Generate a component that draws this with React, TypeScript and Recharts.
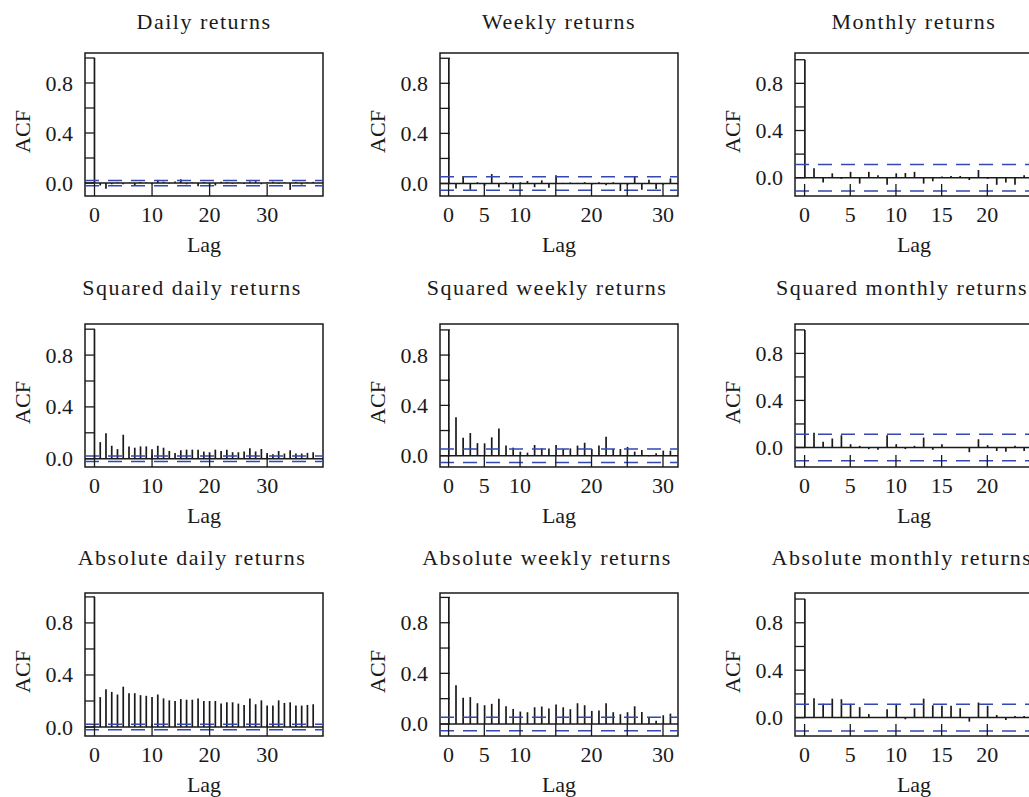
import React from 'react';
import { ComposedChart, Bar, XAxis, YAxis, ReferenceLine, ReferenceArea } from 'recharts';

const FONT = '"Liberation Serif", "DejaVu Serif", serif';
const INK = '#1a1a1a';
const BLUE = '#3547b0';

// ACF values, index = lag
const dailyAcf = [
  1, -0.02, -0.045, -0.01, 0.005, -0.01, 0.003, -0.02, 0.008, 0.004, -0.01, 0.025, 0.01, -0.005,
  0.012, 0.03, -0.01, 0.005, -0.025, 0.008, -0.012, -0.02, 0.01, 0.006, -0.005, 0.004, -0.008,
  0.012, 0.015, -0.01, 0.005, 0.01, -0.006, 0.004, -0.055, 0.008, -0.012, 0.006, 0.009,
];
const weeklyAcf = [
  1, -0.04, 0.06, -0.05, 0.01, -0.02, 0.075, -0.03, 0.01, -0.04, 0.01, 0.02, -0.03, 0.025, -0.035,
  0.065, 0.005, 0.008, 0.005, 0.01, -0.01, 0.01, -0.015, 0.01, -0.06, -0.015, 0.06, -0.05, 0.03,
  -0.045, -0.01, 0.04,
];
const monthlyAcf = [
  1, 0.08, -0.04, 0.037, -0.01, 0.05, -0.05, 0.05, 0.02, -0.06, 0.037, 0.04, 0.05, -0.05, -0.03,
  0.01, 0.015, 0.015, -0.02, 0.065, -0.01, -0.06, -0.04, -0.06, 0.02,
];
const sqDailyAcf = [
  1, 0.128, 0.197, 0.1, 0.074, 0.185, 0.095, 0.085, 0.095, 0.095, 0.074, 0.1, 0.085, 0.06, 0.045,
  0.065, 0.07, 0.07, 0.07, 0.055, 0.05, 0.07, 0.06, 0.07, 0.05, 0.05, 0.055, 0.08, 0.055, 0.075,
  0.045, 0.035, 0.06, 0.04, 0.065, 0.04, 0.04, 0.045, 0.05,
];
const sqWeeklyAcf = [
  1, 0.305, 0.143, 0.18, 0.1, 0.098, 0.146, 0.217, 0.08, 0.064, 0.032, 0.024, 0.085, 0.058, 0.058,
  0.085, 0.053, 0.058, 0.08, 0.103, 0.053, 0.08, 0.151, 0.053, 0.053, 0.07, 0.032, 0.045, -0.005,
  0.02, 0.04, 0.04,
];
const sqMonthlyAcf = [
  1, 0.126, 0.048, 0.076, 0.104, 0.028, 0.014, -0.014, -0.02, 0.104, 0.028, -0.014, 0.014, 0.084,
  -0.02, 0.028, 0.003, -0.005, -0.04, 0.07, 0.02, -0.03, -0.036, 0.014, -0.03,
];
const absDailyAcf = [
  1, 0.23, 0.29, 0.27, 0.25, 0.31, 0.26, 0.26, 0.245, 0.24, 0.23, 0.25, 0.22, 0.205, 0.2, 0.215,
  0.21, 0.21, 0.22, 0.2, 0.2, 0.2, 0.18, 0.19, 0.19, 0.18, 0.17, 0.22, 0.175, 0.205, 0.165, 0.165,
  0.205, 0.185, 0.19, 0.165, 0.165, 0.17, 0.175,
];
const absWeeklyAcf = [
  1, 0.307, 0.207, 0.212, 0.164, 0.148, 0.159, 0.199, 0.14, 0.119, 0.098, 0.093, 0.132, 0.138,
  0.122, 0.154, 0.132, 0.117, 0.164, 0.148, 0.103, 0.106, 0.164, 0.093, 0.077, 0.093, 0.14, 0.095,
  0.053, 0.026, 0.069, 0.082,
];
const absMonthlyAcf = [
  1, 0.164, 0.116, 0.16, 0.155, 0.116, 0.088, 0.03, 0.005, 0.07, 0.116, -0.014, 0.079, 0.16,
  0.104, 0.1, 0.1, 0.079, -0.034, 0.127, 0.1, 0.022, -0.02, 0.014, 0.014,
];

const yTicks = [0, 0.2, 0.4, 0.6, 0.8, 1.0];
const yTickLabels = [0, 0.4, 0.8];
const dailyTicks = [0, 10, 20, 30];
const weeklyTicks = [0, 5, 10, 15, 20, 25, 30];
const weeklyTickLabels = [0, 5, 10, 20, 30];
const monthlyTicks = [0, 5, 10, 15, 20];

const PLOT_W = 238;
const PLOT_H = 143;
const Y_AXIS_W = 85;
const X_AXIS_H = 62;
const TOP_PAD = 10;
const RIGHT_PAD = 10;

const columns = [
  { left: 85, xDomain: [-1.65, 39.7], ticks: dailyTicks, tickLabels: dailyTicks, ci: 0.021 },
  { left: 440, xDomain: [-1.2, 32.1], ticks: weeklyTicks, tickLabels: weeklyTickLabels, ci: 0.054 },
  { left: 795, xDomain: [-1.05, 25.0], ticks: monthlyTicks, tickLabels: monthlyTicks, ci: 0.113 },
];
const rowTops = [53, 324, 593];
const titleBaselines = [29, 295, 565];
// the longer titles sit a little left of the plot centre in the original
const titleShift = [0, -12, -12];

const panels = [
  { title: 'Daily returns', values: dailyAcf, row: 0, col: 0, yDomain: [-0.104, 1.04] },
  { title: 'Weekly returns', values: weeklyAcf, row: 0, col: 1, yDomain: [-0.1, 1.042] },
  { title: 'Monthly returns', values: monthlyAcf, row: 0, col: 2, yDomain: [-0.155, 1.057] },
  { title: 'Squared daily returns', values: sqDailyAcf, row: 1, col: 0, yDomain: [-0.064, 1.04] },
  { title: 'Squared weekly returns', values: sqWeeklyAcf, row: 1, col: 1, yDomain: [-0.09, 1.047] },
  { title: 'Squared monthly returns', values: sqMonthlyAcf, row: 1, col: 2, yDomain: [-0.166, 1.05] },
  { title: 'Absolute daily returns', values: absDailyAcf, row: 2, col: 0, yDomain: [-0.069, 1.03] },
  { title: 'Absolute weekly returns', values: absWeeklyAcf, row: 2, col: 1, yDomain: [-0.095, 1.035] },
  { title: 'Absolute monthly returns', values: absMonthlyAcf, row: 2, col: 2, yDomain: [-0.155, 1.051] },
];

const textStyle = { fontFamily: FONT, fontSize: 22, fill: INK };

const YTick = (props: any) => {
  const { x, y, payload } = props;
  const v = payload.value;
  return (
    <g>
      <line x1={x} x2={x + 10} y1={y} y2={y} stroke={INK} strokeWidth={1.3} />
      {yTickLabels.includes(v) && (
        <text x={x - 12} y={y + 7.5} textAnchor="end" style={textStyle}>
          {v.toFixed(1)}
        </text>
      )}
    </g>
  );
};

const makeXTick = (labels: number[]) => (props: any) => {
  const { x, y, payload } = props;
  const v = payload.value;
  return (
    <g>
      <line x1={x} x2={x} y1={y} y2={y - 12} stroke={INK} strokeWidth={1.3} />
      {labels.includes(v) && (
        <text x={x} y={y + 26} textAnchor="middle" style={textStyle}>
          {v}
        </text>
      )}
    </g>
  );
};

const acfLabel = (props: any) => {
  const { x, y, height } = props.viewBox;
  const cx = x + 22;
  const cy = y + height / 2 + 7;
  return (
    <text x={cx} y={cy} transform={`rotate(-90 ${cx} ${cy})`} textAnchor="middle" dominantBaseline="central" style={textStyle}>
      ACF
    </text>
  );
};

const lagLabel = (props: any) => {
  const { x, y, width } = props.viewBox;
  return (
    <text x={x + width / 2} y={y + 55.5} textAnchor="middle" style={textStyle}>
      Lag
    </text>
  );
};

const AcfPanel = ({ panel }: { panel: (typeof panels)[number] }) => {
  const col = columns[panel.col];
  const data = panel.values.map((v, i) => ({ lag: i, acf: v }));
  const [x0, x1] = col.xDomain;
  const [y0, y1] = panel.yDomain;
  return (
    <div style={{ position: 'absolute', left: col.left - Y_AXIS_W, top: rowTops[panel.row] - TOP_PAD }}>
      <ComposedChart
        width={Y_AXIS_W + PLOT_W + RIGHT_PAD}
        height={TOP_PAD + PLOT_H + X_AXIS_H}
        data={data}
        margin={{ top: TOP_PAD, right: RIGHT_PAD, bottom: 0, left: 0 }}
      >
        <XAxis
          dataKey="lag"
          type="number"
          domain={[x0, x1]}
          allowDataOverflow
          ticks={col.ticks}
          interval={0}
          height={X_AXIS_H}
          axisLine={false}
          tickLine={false}
          tickSize={0}
          tickMargin={0}
          tick={makeXTick(col.tickLabels)}
          label={lagLabel}
        />
        <YAxis
          type="number"
          domain={[y0, y1]}
          allowDataOverflow
          ticks={yTicks}
          interval={0}
          width={Y_AXIS_W}
          axisLine={false}
          tickLine={false}
          tickSize={0}
          tickMargin={0}
          tick={YTick}
          label={acfLabel}
        />
        <Bar dataKey="acf" barSize={1.7} fill={INK} isAnimationActive={false} />
        <ReferenceLine y={0} stroke={INK} strokeWidth={1.5} />
        <ReferenceLine y={col.ci} stroke={BLUE} strokeWidth={1.5} strokeDasharray="14 9" />
        <ReferenceLine y={-col.ci} stroke={BLUE} strokeWidth={1.5} strokeDasharray="14 9" />
        <ReferenceArea x1={x0} x2={x1} y1={y0} y2={y1} fill="none" stroke={INK} strokeWidth={1.5} ifOverflow="visible" />
      </ComposedChart>
    </div>
  );
};

export default function App() {
  return (
    <div style={{ position: 'fixed', left: 0, top: 0, width: 1029, height: 797, overflow: 'hidden', background: '#fff' }}>
      {panels.map((p) => (
        <AcfPanel key={p.title} panel={p} />
      ))}
      <svg width={1029} height={797} style={{ position: 'absolute', left: 0, top: 0, pointerEvents: 'none' }}>
        {panels.map((p) => (
          <text
            key={p.title}
            x={columns[p.col].left + PLOT_W / 2 + titleShift[p.row]}
            y={titleBaselines[p.row]}
            textAnchor="middle"
            style={{ ...textStyle, letterSpacing: 1.5 }}
          >
            {p.title}
          </text>
        ))}
      </svg>
    </div>
  );
}
